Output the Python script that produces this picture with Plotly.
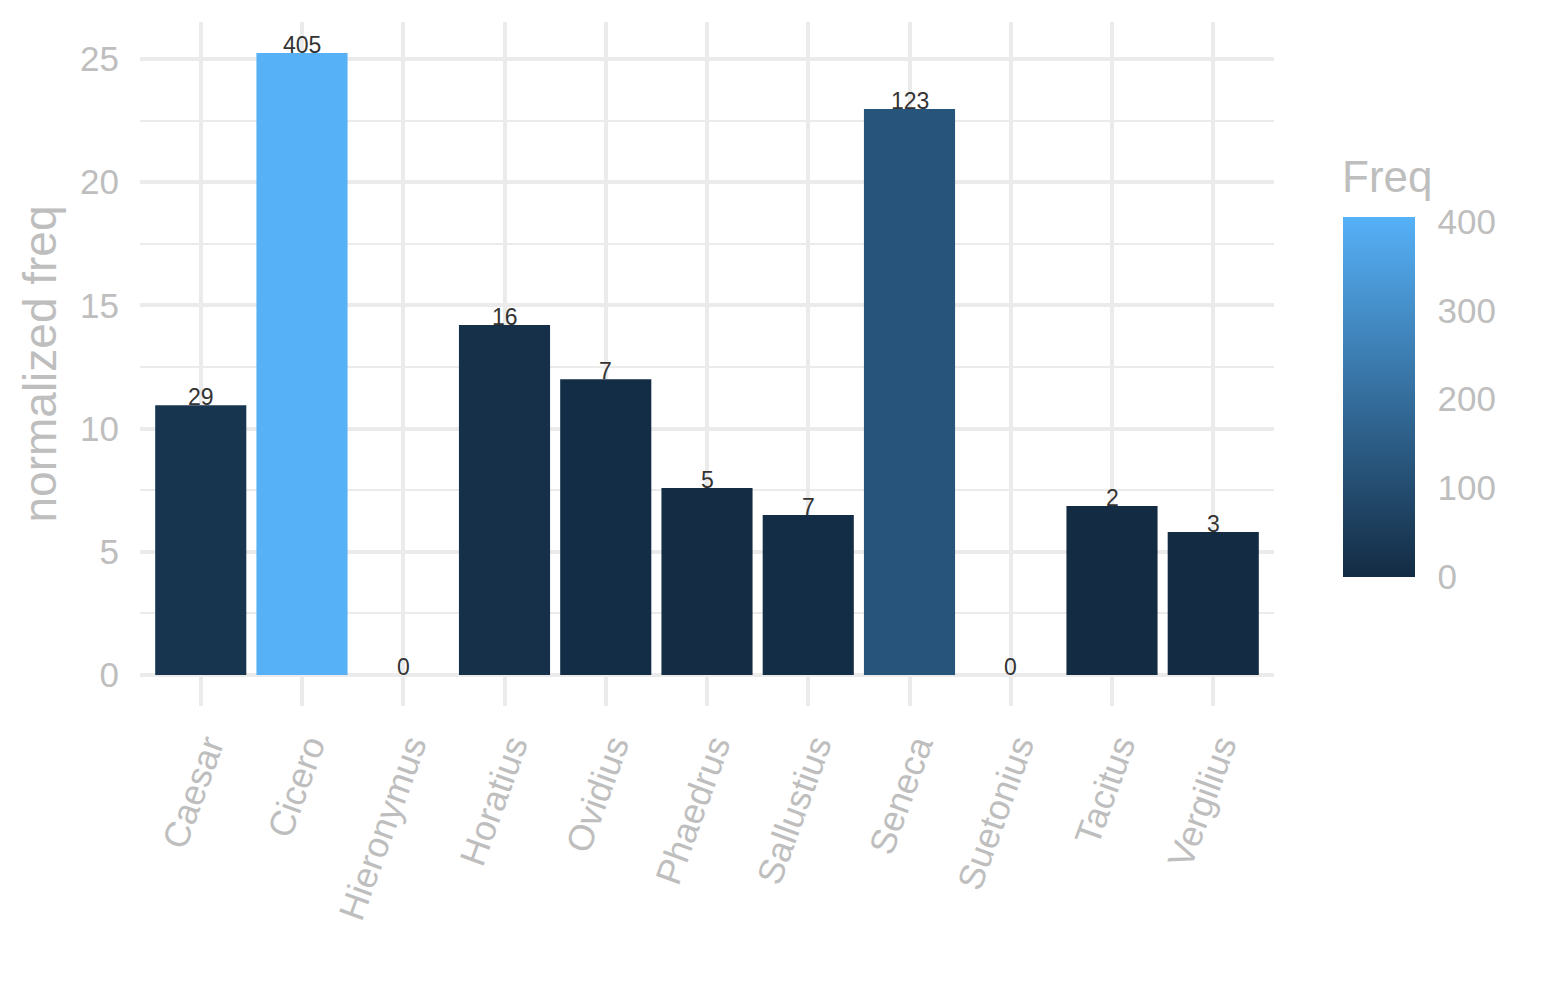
import plotly.graph_objs as go

# author names, normalized frequency and raw frequency
authors = ['Caesar', 'Cicero', 'Hieronymus', 'Horatius', 'Ovidius', 'Phaedrus',
           'Sallustius', 'Seneca', 'Suetonius', 'Tacitus', 'Vergilius']
norm_freq = [10.95, 25.24, 0, 14.2, 12.0, 7.59, 6.49, 22.97, 0, 6.86, 5.8]
freq = [29, 405, 0, 16, 7, 5, 7, 123, 0, 2, 3]

y_ticks = [0, 5, 10, 15, 20, 25]
freq_ticks = [0, 100, 200, 300, 400]

FONT = 'Liberation Sans'
GREY = '#BEBEBE'
GRID = '#EBEBEB'

fig = go.Figure()

fig.add_trace(go.Bar(
    x=authors,
    y=norm_freq,
    width=0.9,
    marker=dict(
        color=freq,
        cmin=0,
        cmax=max(freq),
        colorscale=[[0, '#132B43'], [1, '#56B1F7']],
        line=dict(width=0),
        showscale=True,
        colorbar=dict(
            xref='paper', yref='paper',
            x=1.0608, xanchor='left',
            y=0.1886, yanchor='bottom',
            thickness=72,
            len=360, lenmode='pixels',
            xpad=0, ypad=0,
            outlinewidth=0,
            tickvals=freq_ticks,
            # white ticks on white page just push the labels away from the bar
            ticks='outside', ticklen=16, tickcolor='white', tickwidth=1,
            tickfont=dict(size=35, color=GREY, family=FONT),
        ),
    ),
    hoverinfo='x+y',
))

# labels with the raw counts on top of each bar
for a, v, f in zip(authors, norm_freq, freq):
    fig.add_annotation(
        x=a, y=v, text=str(f), showarrow=False,
        yanchor='middle', yshift=8,
        font=dict(size=23, color='#333333', family=FONT),
    )

# colorbar title
fig.add_annotation(
    xref='paper', yref='paper', x=1.0608, y=0.774,
    xanchor='left', yanchor='middle', showarrow=False, xshift=-3,
    text='Freq', font=dict(size=44, color=GREY, family=FONT),
)

fig.update_layout(
    width=1545, height=1000,
    margin=dict(l=132, r=279, t=14, b=302),
    plot_bgcolor='white',
    paper_bgcolor='white',
    showlegend=False,
    bargap=0.1,
    font=dict(family=FONT, color=GREY),
    xaxis=dict(
        range=[-0.6, 10.6],
        showgrid=True, gridcolor=GRID, gridwidth=3.5,
        tickangle=-70,
        tickfont=dict(size=36, color=GREY, family=FONT),
        showline=False, zeroline=False,
        ticks='', ticklabelstandoff=11, ticklabelshift=7,
    ),
    yaxis=dict(
        range=[-1.26, 26.5],
        tickvals=y_ticks,
        showgrid=True, gridcolor=GRID, gridwidth=3.5,
        minor=dict(dtick=2.5, tick0=2.5, showgrid=True, gridcolor=GRID, gridwidth=2),
        zeroline=False, showline=False,
        tickfont=dict(size=35, color=GREY, family=FONT),
        ticks='', ticklabelstandoff=20,
        title=dict(text='normalized freq', font=dict(size=46, color=GREY, family=FONT), standoff=8),
    ),
)

fig.write_html("out.html")
